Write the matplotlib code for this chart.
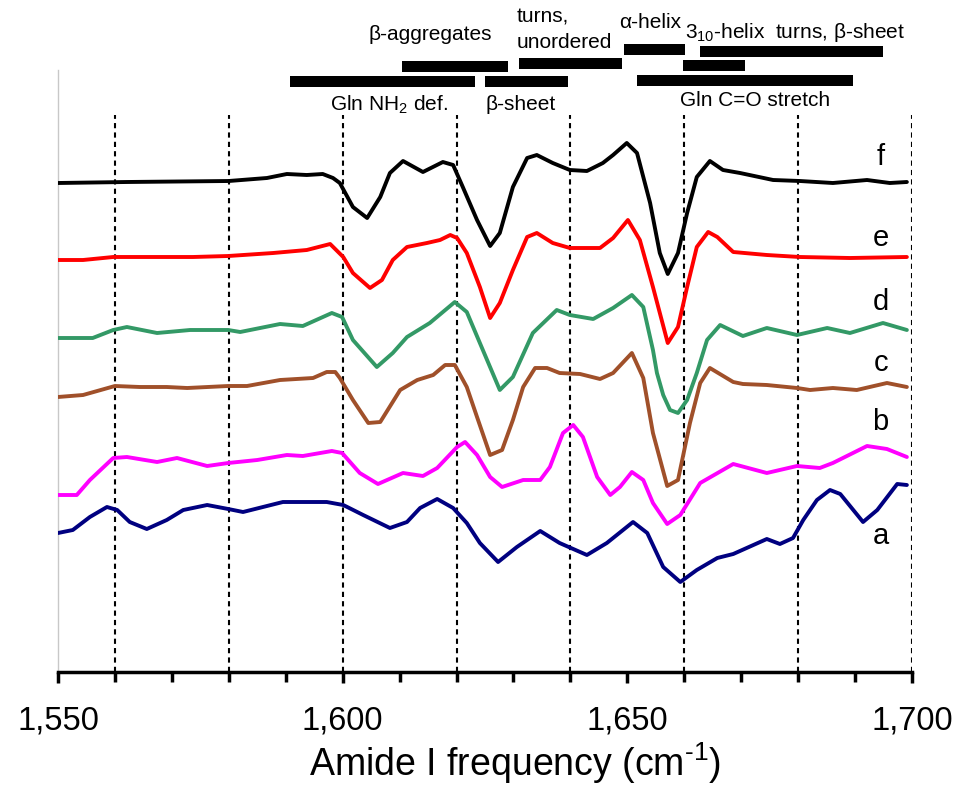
import numpy as np
import matplotlib
matplotlib.use("Agg")
import matplotlib.pyplot as plt
from matplotlib.ticker import MultipleLocator, FuncFormatter

plt.rcParams['font.family'] = ['Liberation Sans', 'DejaVu Sans']
plt.rcParams['mathtext.fontset'] = 'custom'
plt.rcParams['mathtext.rm'] = 'Liberation Sans'
plt.rcParams['mathtext.it'] = 'Liberation Sans:italic'

# spectra (offset, arbitrary units)
f_x = [1550, 1562.1, 1580.0, 1586.7, 1590.2, 1593.7, 1596.5, 1598.3, 1599.5, 1601.8, 1604.3, 1606.6,
       1608.3, 1610.6, 1614.1, 1617.6, 1619.4, 1621.1, 1623.6, 1625.9, 1627.6, 1629.9, 1632.4, 1634.1,
       1636.9, 1639.9, 1642.9, 1645.7, 1647.5, 1649.9, 1651.7, 1654.0, 1655.7, 1657.1, 1658.9, 1660.5,
       1662.2, 1664.5, 1666.8, 1669.8, 1675.6, 1680.3, 1686.1, 1692.1, 1696.1, 1699.1]
f_y = [489, 490, 491, 494, 498, 497, 498, 494, 489, 465, 454, 475,
       499, 511, 500, 510, 507, 485, 452, 426, 439, 485, 514, 517,
       509, 502, 501, 509, 517, 529, 519, 469, 419, 398, 419, 459,
       495, 511, 502, 499, 492, 491, 489, 492, 489, 490]

e_x = [1550, 1554.4, 1559.7, 1573.7, 1579.9, 1587.8, 1593.7, 1597.8, 1600.1, 1601.8, 1604.8, 1606.9,
       1608.8, 1611.3, 1614.8, 1617.1, 1618.9, 1620.1, 1621.8, 1624.1, 1625.9, 1627.6, 1629.9, 1632.4,
       1634.1, 1636.9, 1639.9, 1645.2, 1647.5, 1650.1, 1652.2, 1654.5, 1657.1, 1658.9, 1660.5, 1662.2,
       1664.2, 1665.8, 1668.6, 1674.5, 1680.3, 1689.1, 1699.1]
e_y = [412, 412, 415, 415, 416, 419, 422, 428, 415, 399, 384, 392,
       412, 425, 429, 432, 437, 434, 419, 385, 354, 369, 402, 435,
       439, 429, 424, 424, 434, 452, 432, 385, 329, 345, 385, 425,
       440, 435, 420, 417, 415, 414, 415]

d_x = [1550, 1556.1, 1559.7, 1562.1, 1567.4, 1573.2, 1579.9, 1582.0, 1589.0, 1593.0, 1598.1, 1599.9,
       1601.8, 1606.0, 1608.8, 1611.3, 1615.3, 1619.7, 1621.8, 1624.1, 1627.6, 1629.9, 1633.4, 1637.6,
       1639.9, 1644.0, 1647.5, 1650.8, 1652.8, 1654.5, 1655.2, 1656.3, 1657.5, 1658.9, 1660.5, 1662.2,
       1664.0, 1666.3, 1670.3, 1674.5, 1679.8, 1685.1, 1689.1, 1694.9, 1699.1]
d_y = [334, 334, 342, 345, 339, 342, 342, 340, 348, 346, 359, 355,
       332, 305, 319, 335, 349, 370, 360, 329, 282, 295, 339, 362,
       357, 353, 364, 377, 365, 322, 299, 277, 262, 259, 272, 299,
       332, 347, 336, 344, 337, 344, 339, 349, 342]

c_x = [1550, 1554.4, 1560.0, 1564.4, 1569.1, 1572.7, 1579.9, 1583.2, 1589.0, 1594.8, 1597.2, 1598.7,
       1599.5, 1601.8, 1604.5, 1606.6, 1610.1, 1613.1, 1615.9, 1618.0, 1619.7, 1621.8, 1623.6, 1625.9,
       1628.0, 1629.9, 1631.7, 1633.8, 1635.9, 1638.1, 1641.7, 1645.2, 1647.5, 1650.8, 1652.8, 1654.5,
       1657.0, 1658.9, 1661.0, 1662.8, 1664.5, 1668.6, 1670.3, 1674.5, 1679.8, 1682.1, 1686.1, 1690.3,
       1695.6, 1699.1]
c_y = [275, 277, 286, 285, 285, 284, 286, 286, 292, 294, 300, 300,
       294, 272, 249, 250, 282, 292, 297, 307, 307, 285, 255, 217,
       222, 252, 285, 304, 304, 299, 298, 293, 299, 319, 294, 239,
       186, 192, 249, 289, 304, 290, 288, 287, 284, 282, 284, 282,
       289, 285]

b_x = [1550, 1553.3, 1555.6, 1559.7, 1562.1, 1567.4, 1570.9, 1576.2, 1579.9, 1585.0, 1590.2, 1593.0,
       1598.1, 1599.9, 1603.0, 1606.2, 1610.6, 1614.1, 1616.6, 1620.1, 1621.5, 1623.6, 1625.9, 1628.0,
       1631.7, 1634.7, 1636.4, 1638.7, 1640.5, 1642.2, 1644.7, 1647.0, 1648.7, 1650.8, 1652.8, 1654.5,
       1657.0, 1659.3, 1662.8, 1668.6, 1674.5, 1679.8, 1683.8, 1686.1, 1692.1, 1695.6, 1699.1]
b_y = [177, 177, 192, 214, 215, 210, 214, 206, 209, 212, 217, 216,
       221, 219, 199, 188, 199, 196, 204, 225, 230, 217, 195, 185,
       192, 192, 205, 239, 247, 235, 195, 177, 185, 200, 192, 169,
       148, 157, 189, 208, 199, 206, 204, 209, 226, 223, 215]

a_x = [1550, 1552.6, 1555.6, 1558.6, 1560.4, 1562.6, 1565.6, 1569.1, 1572.0, 1576.2, 1579.9, 1582.5,
       1586.7, 1589.5, 1597.2, 1600.1, 1603.6, 1608.3, 1611.3, 1613.6, 1616.6, 1619.4, 1621.8, 1624.1,
       1627.3, 1630.6, 1634.7, 1638.1, 1642.9, 1646.4, 1651.0, 1653.5, 1656.3, 1659.3, 1662.2, 1665.8,
       1668.6, 1674.5, 1676.8, 1679.1, 1680.9, 1683.3, 1685.6, 1687.4, 1691.4, 1693.9, 1697.4, 1699.1]
a_y = [139, 142, 155, 165, 162, 150, 143, 152, 162, 167, 163, 160,
       166, 170, 170, 167, 157, 144, 150, 164, 173, 164, 149, 129,
       110, 125, 141, 129, 117, 129, 150, 139, 105, 90, 102, 114,
       118, 133, 128, 134, 152, 172, 182, 178, 150, 162, 188, 187]

series = [
    ('a', a_x, a_y, '#000080', 136),
    ('b', b_x, b_y, '#ff00ff', 250),
    ('c', c_x, c_y, '#a0502a', 309),
    ('d', d_x, d_y, '#339966', 370),
    ('e', e_x, e_y, '#ff0000', 434),
    ('f', f_x, f_y, '#000000', 515),
]

# assignment bands (cm-1)
band_start = [1590.7, 1610.4, 1625.0, 1631.0, 1649.4, 1659.8, 1662.8, 1651.7]
band_end = [1623.3, 1629.0, 1639.6, 1649.1, 1660.1, 1670.7, 1694.9, 1689.6]
band_level = [590.5, 605.5, 590.5, 609, 623, 606.5, 621, 591.5]

dashed_x = [1560, 1580, 1600, 1620, 1640, 1660, 1680, 1700]

fig = plt.figure(figsize=(9.59, 7.87), dpi=100)
ax = fig.add_axes([58 / 959, 115 / 787, 854 / 959, 672 / 787])

ax.vlines(dashed_x, 0, 557, colors='black', linewidth=1.5, linestyles=(0, (2.5, 2)), zorder=1)

for name, xs, ys, col, ly in series:
    ax.plot(xs, ys, color=col, linewidth=2.8, solid_joinstyle='round', solid_capstyle='round', zorder=3)
    ax.text(1694.5, ly, name, fontsize=21, ha='center', va='center')

ax.barh(band_level, np.array(band_end) - np.array(band_start), left=band_start,
        height=11, color='black', zorder=3)

fs = 15
ax.text(1615.3, 637, 'β-aggregates', fontsize=fs, ha='center', va='center')
ax.text(1630.6, 655, 'turns,', fontsize=fs, ha='left', va='center')
ax.text(1630.6, 629, 'unordered', fontsize=fs, ha='left', va='center')
ax.text(1608.1, 567, 'Gln NH$_2$ def.', fontsize=fs, ha='center', va='center')
ax.text(1631.3, 567, 'β-sheet', fontsize=fs, ha='center', va='center')
ax.text(1654.0, 650, 'α-helix', fontsize=fs, ha='center', va='center')
ax.text(1660.1, 639, '3$_{10}$-helix  turns, β-sheet', fontsize=fs, ha='left', va='center')
ax.text(1672.4, 572, 'Gln C=O stretch', fontsize=fs, ha='center', va='center')

ax.set_xlim(1550, 1700)
ax.set_ylim(0, 672)
ax.spines['top'].set_visible(False)
ax.spines['right'].set_visible(False)
ax.spines['left'].set_bounds(0, 602)
ax.spines['left'].set_color('#c8c8c8')
ax.spines['left'].set_linewidth(1)
ax.spines['bottom'].set_linewidth(2.5)
ax.set_yticks([])

ax.xaxis.set_major_locator(MultipleLocator(50))
ax.xaxis.set_minor_locator(MultipleLocator(10))
ax.xaxis.set_major_formatter(FuncFormatter(lambda v, p: f'{v:,.0f}'))
ax.tick_params(axis='x', which='major', length=8, width=2.5, labelsize=23.5, pad=16)
ax.tick_params(axis='x', which='minor', length=7, width=2.5)

fig.text(515 / 959, 1 - 763 / 787, r'Amide I frequency (cm$^{\text{-1}}$)', fontsize=27,
         ha='center', va='center')

fig.savefig('out.png', dpi=100)
